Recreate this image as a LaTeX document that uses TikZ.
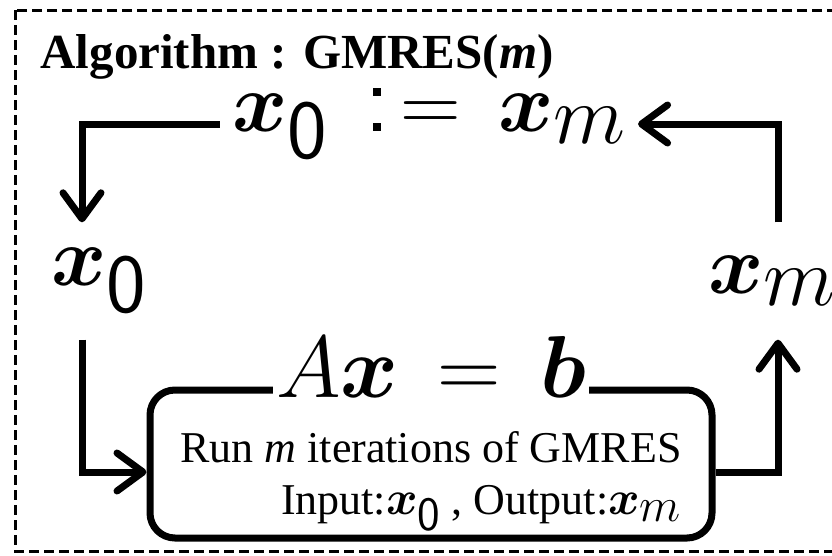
\RequirePackage{fix-cm}
\documentclass[tikz,border=0pt]{standalone}
\usepackage{amsmath,bm}
\usepackage{fontspec}
\setmainfont{Liberation Serif}
\usetikzlibrary{positioning, arrows.meta, calc}

\newcommand{\xzero}{\bm{x}_{\textstyle\mathsf{0}}}
\newcommand{\xem}{\bm{x}_{\textstyle m}}

\begin{document}
\begin{tikzpicture}[x=1pt,y=-1pt,
  flow/.style={line width=7pt,-{Straight Barb[length=26pt,width=38pt,round]}},
  bigmath/.style={font=\fontsize{84}{90}\selectfont,inner sep=0pt},
  solverbox/.style={draw,line width=7pt,rounded corners=25pt,minimum width=562pt,
                    minimum height=148pt,align=right,font=\fontsize{44}{52}\selectfont},
  eqlabel/.style={fill=white,inner sep=3pt,font=\fontsize{88}{90}\selectfont}]
  \clip (0,0) rectangle (832,555);
  \draw[line width=3pt,dash pattern=on 10pt off 5pt] (15,10) rectangle (860,551);

  \node[anchor=base west,font=\bfseries\fontsize{49}{56}\selectfont] (title) at (37,68)
    {Algorithm : GMRES(\textit{m})};
  \node[bigmath,inner xsep=12pt] (assign) at (429,124)
    {$\xzero\mkern8mu\mathord{\textsf{\fontsize{100}{100}\selectfont :}}\mkern2mu{=}\mkern8mu\xem$};
  \node[bigmath,minimum height=117pt] (x0) at (99,281) {$\xzero$};
  \node[bigmath,minimum height=117pt,anchor=west] (xm) at (708,281) {$\xem$};
  \node[solverbox] (solver) at (431,464)
    {\rule{0pt}{66pt}Run \textit{m} iterations of GMRES\\
     Input:{\fontsize{48}{52}\selectfont$\xzero$} , Output:{\fontsize{48}{52}\selectfont$\xem$}};
  \node[eqlabel,anchor=base] (eq) at ([yshift=-11pt]solver.north)
    {$A\bm{x}\mkern3mu=\mkern3mu\bm{b}$};

  % loop columns
  \coordinate (lcol) at (82,0);
  \coordinate (rcol) at (778,0);
  \draw[flow] (assign.west) -| (x0.north -| lcol);
  \draw[flow] (x0.south -| lcol) |- ([yshift=-8pt]solver.west);
  \draw[flow] ([yshift=-8pt]solver.east) -| (xm.south -| rcol);
  \draw[flow] (xm.north -| rcol) |- (assign.east);
\end{tikzpicture}
\end{document}
